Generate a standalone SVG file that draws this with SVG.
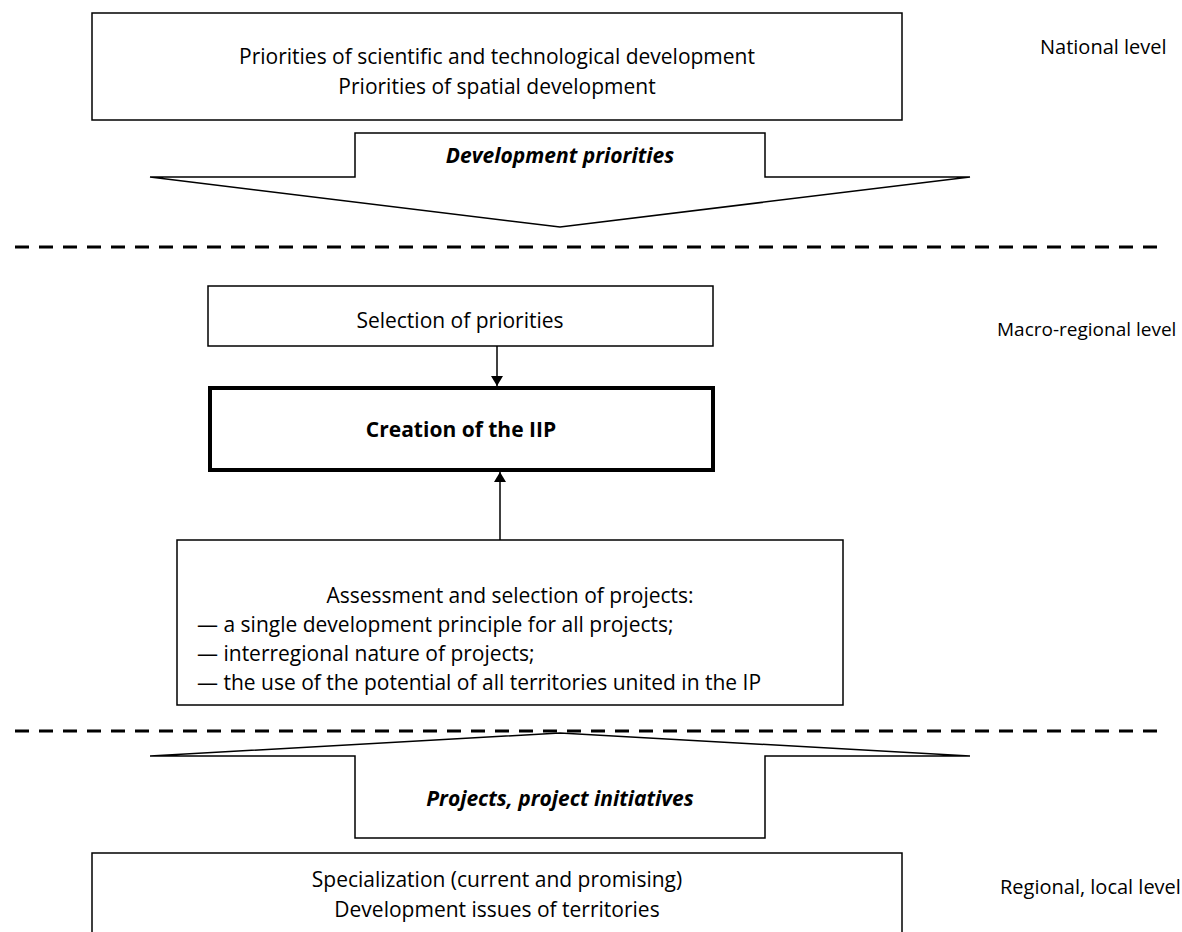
<svg xmlns="http://www.w3.org/2000/svg" width="1182" height="932" viewBox="0 0 1182 932">
<defs>
<style>
text{font-family:"Open Sans","Noto Sans","Liberation Sans",sans-serif;font-size:21px;fill:#000}
.c{text-anchor:middle}
.b{font-weight:bold}
.bi{font-weight:bold;font-style:italic}
.lv{font-size:20px}
.box{fill:#fff;stroke:#000;stroke-width:1.5}
.thick{fill:#fff;stroke:#000;stroke-width:4}
.dash{stroke:#000;stroke-width:3;stroke-dasharray:14 10;fill:none}
.ln{stroke:#000;stroke-width:1.5;fill:none}
</style>
<marker id="ah" viewBox="0 0 10 12" refX="10" refY="6" markerWidth="10" markerHeight="12" markerUnits="userSpaceOnUse" orient="auto"><path d="M0,0 L10,6 L0,12 Z" fill="#000"/></marker>
</defs>
<rect width="1182" height="932" fill="#fff"/>
<g id="national">
<rect class="box" x="92" y="13" width="810" height="107"/>
<text class="c" x="497" y="64">Priorities of scientific and technological development</text>
<text class="c" x="497" y="94">Priorities of spatial development</text>
</g>
<g id="dev-priorities">
<polygon class="box" points="150,177 355,177 355,133 765,133 765,177 970,177 560,227"/>
<text class="c bi" x="560" y="163">Development priorities</text>
</g>
<g id="levels">
<text class="lv" x="1040" y="54">National level</text>
<text class="lv" x="997" y="336" style="font-size:19px">Macro-regional level</text>
<text class="lv" x="1000" y="894">Regional, local level</text>
</g>
<g id="separators">
<line class="dash" x1="15" y1="247" x2="1165" y2="247"/>
<line class="dash" x1="15" y1="731" x2="1165" y2="731"/>
</g>
<g id="selection">
<rect class="box" x="208" y="286" width="505" height="60"/>
<text class="c" x="460" y="328">Selection of priorities</text>
</g>
<g id="creation">
<rect class="thick" x="210" y="388" width="503" height="82"/>
<text class="c b" x="461" y="437">Creation of the IIP</text>
</g>
<g id="assessment">
<rect class="box" x="177" y="540" width="666" height="165"/>
<text class="c" x="510" y="603">Assessment and selection of projects:</text>
<text x="197" y="632">— a single development principle for all projects;</text>
<text x="197" y="661">— interregional nature of projects;</text>
<text x="197" y="690">— the use of the potential of all territories united in the IP</text>
</g>
<g id="projects">
<polygon class="box" points="150,756 560,733 970,756 765,756 765,838 355,838 355,756"/>
<text class="c bi" x="560" y="806">Projects, project initiatives</text>
</g>
<g id="regional">
<rect class="box" x="92" y="853" width="810" height="90"/>
<text class="c" x="497" y="887">Specialization (current and promising)</text>
<text class="c" x="497" y="917">Development issues of territories</text>
</g>
<g id="connectors">
<line class="ln" x1="497" y1="346" x2="497" y2="386" marker-end="url(#ah)"/>
<line class="ln" x1="500" y1="540" x2="500" y2="472" marker-end="url(#ah)"/>
</g>
</svg>
